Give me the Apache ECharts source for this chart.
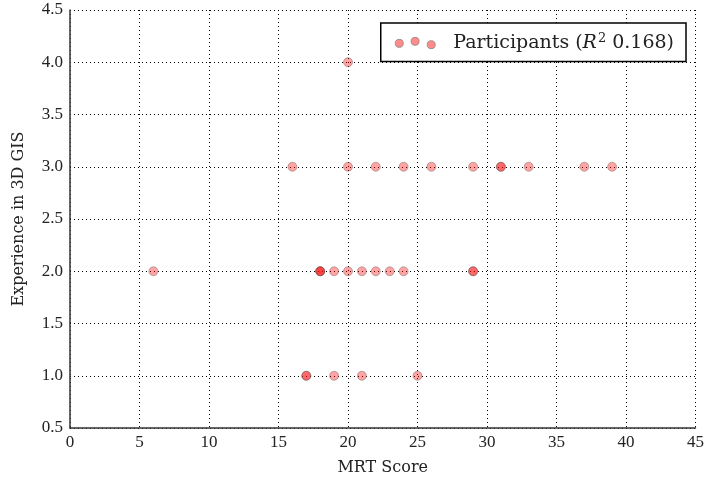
<!DOCTYPE html>
<html>
<head>
<meta charset="utf-8">
<script src="https://cdn.jsdelivr.net/npm/echarts@6/dist/echarts.min.js"></script>
<style>
  html, body { margin: 0; padding: 0; background: #fff; }
  #chart { width: 707px; height: 486px; }
</style>
</head>
<body>
<div id="chart"></div>
<script>
// MRT score and 3D GIS experience per participant (repeated rows overlap and darken)
const mrtScore = [20, 16, 20, 22, 24, 26, 29, 31, 31, 33, 37, 39,
                  6, 18, 18, 18, 19, 20, 21, 22, 23, 24, 29, 29,
                  17, 17, 19, 21, 25];
const experience = [4, 3, 3, 3, 3, 3, 3, 3, 3, 3, 3, 3,
                    2, 2, 2, 2, 2, 2, 2, 2, 2, 2, 2, 2,
                    1, 1, 1, 1, 1];
const seriesName = 'Participants';
const rSquared = '0.168';
const xTicks = { min: 0, max: 45, step: 5 };
const yTicks = { min: 0.5, max: 4.5, step: 0.5 };

const points = mrtScore.map((x, i) => [x, experience[i]]);
const serif = '"Liberation Serif", "DejaVu Serif", serif';
const wideSerif = '"DejaVu Serif", "Liberation Serif", serif';
const dotted = { type: [1, 3], color: '#000', width: 1 };

const chart = echarts.init(document.getElementById('chart'));
chart.setOption({
  animation: false,
  backgroundColor: '#fff',
  grid: { left: 70, right: 11, top: 10, bottom: 58, containLabel: false },
  xAxis: {
    type: 'value', min: xTicks.min, max: xTicks.max, interval: xTicks.step,
    name: 'MRT Score', nameLocation: 'middle', nameGap: 32,
    nameTextStyle: { fontFamily: wideSerif, fontSize: 16, color: '#222' },
    axisLine: { show: true, onZero: false, lineStyle: { color: '#333', width: 1.5 } },
    axisTick: { show: false },
    axisLabel: { fontFamily: serif, fontSize: 17, color: '#222', margin: 6 },
    splitLine: { show: true, lineStyle: dotted }
  },
  yAxis: {
    type: 'value', min: yTicks.min, max: yTicks.max, interval: yTicks.step,
    name: 'Experience in 3D GIS', nameLocation: 'middle', nameGap: 43,
    nameTextStyle: { fontFamily: wideSerif, fontSize: 16, color: '#222' },
    axisLine: { show: true, onZero: false, lineStyle: { color: '#333', width: 1.5 } },
    axisTick: { show: false },
    axisLabel: { fontFamily: serif, fontSize: 17, color: '#222', margin: 7,
                 formatter: v => v.toFixed(1) },
    splitLine: { show: true, lineStyle: dotted }
  },
  legend: {
    show: true,
    right: 21, top: 23,
    padding: [9, 12, 9, 14],
    borderColor: '#000', borderWidth: 1.5, borderRadius: 0,
    backgroundColor: '#fff',
    itemWidth: 40, itemHeight: 12, itemGap: 10,
    icon: 'path://M0,6.7a4,4 0 1,0 8,0a4,4 0 1,0 -8,0Z M15.7,4.7a4,4 0 1,0 8,0a4,4 0 1,0 -8,0Z M31.7,8a4,4 0 1,0 8,0a4,4 0 1,0 -8,0Z',
    data: [{ name: seriesName,
             itemStyle: { color: 'rgba(255,0,0,0.45)', borderColor: 'rgba(110,110,110,0.6)', borderWidth: 1, opacity: 1 } }],
    formatter: () => '{t|' + seriesName + ' (}{i|R}{s|2}{t| ' + rSquared + ')}',
    textStyle: {
      fontFamily: wideSerif, fontSize: 19, color: '#222', padding: [0, 0, 0, 13],
      rich: {
        t: { fontFamily: wideSerif, fontSize: 19, color: '#222' },
        i: { fontFamily: wideSerif, fontSize: 19, fontStyle: 'italic', color: '#222' },
        s: { fontFamily: wideSerif, fontSize: 13, color: '#222', verticalAlign: 'top', padding: [0, 0, 9, 1] }
      }
    }
  },
  series: [{
    name: seriesName,
    type: 'scatter',
    data: points,
    symbol: 'circle',
    symbolSize: 9,
    itemStyle: { color: 'rgba(255,0,0,0.45)', borderColor: 'rgba(90,90,90,0.5)', borderWidth: 1 }
  }]
});
</script>
</body>
</html>
